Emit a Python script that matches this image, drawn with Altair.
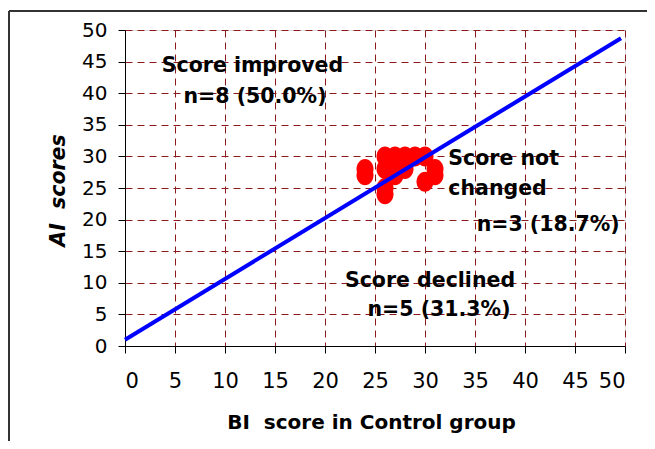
import altair as alt
import pandas as pd

# Scatter data (BI score in control group vs AI score)
bi_scores = [24, 24, 26, 27, 28, 29, 26, 27, 30, 28, 27, 26, 26, 30, 31, 31]
ai_scores = [28, 27, 30, 30, 30, 30, 28, 29, 30, 28, 27, 24, 25, 26, 28, 27]

# Reference line
line_x = [0, 49.6]
line_y = [1, 48.7]

# Annotations
center_text = ["Score improved", "n=8 (50.0%)", "Score declined", "n=5 (31.3%)"]
center_x = [12.75, 13.0, 30.5, 31.4]
center_y = [43.4, 38.4, 9.38, 4.75]

left_text = ["Score not", "changed", "n=3 (18.7%)"]
left_x = [32.33, 32.33, 35.17]
left_y = [28.64, 23.9, 18.25]

tick_values = list(range(0, 51, 5))

FONT = "DejaVu Sans"
GRID = "#8B1A1A"

pts = pd.DataFrame({"bi": bi_scores, "ai": ai_scores})
ln = pd.DataFrame({"bi": line_x, "ai": line_y})
ctext = pd.DataFrame({"bi": center_x, "ai": center_y, "t": center_text})
ltext = pd.DataFrame({"bi": left_x, "ai": left_y, "t": left_text})

xscale = alt.Scale(domain=[0, 50], nice=False, zero=True)
yscale = alt.Scale(domain=[0, 50], nice=False, zero=True)

xaxis = alt.Axis(
    values=tick_values, grid=True, gridColor=GRID, gridDash=[7, 5], gridWidth=1,
    domainColor="black", tickColor="black", tickSize=7, labelOverlap=False,
    labelFont=FONT, labelFontSize=21, labelColor="black", labelPadding=17,
    title="BI\u00a0 score in Control group", titleFont=FONT, titleFontSize=20,
    titleFontWeight="bold", titleColor="black", titleY=82, titleX=246,
    titleBaseline="alphabetic", titleAlign="center",
)
yaxis = alt.Axis(
    values=tick_values, grid=True, gridColor=GRID, gridDash=[7, 5], gridWidth=1,
    domainColor="black", tickColor="black", tickSize=7, labelOverlap=False,
    labelFont=FONT, labelFontSize=20, labelColor="black", labelPadding=11,
    title="AI\u00a0 scores", titleFont=FONT, titleFontSize=20.5, titleFontWeight="bold",
    titleFontStyle="italic", titleColor="black", titleX=-67, titleY=160,
    titleBaseline="middle", titleAlign="center", titleAngle=270,
)

def ex():
    return alt.X("bi:Q", scale=xscale, axis=xaxis)

def ey():
    return alt.Y("ai:Q", scale=yscale, axis=yaxis)

ellipse = "M-0.85,0A0.85,1,0,1,1,0.85,0A0.85,1,0,1,1,-0.85,0Z"

points = alt.Chart(pts).mark_point(
    filled=True, shape=ellipse, size=400, color="#FF0000", opacity=1
).encode(x=ex(), y=ey())

line = alt.Chart(ln).mark_line(color="#0000FF", strokeWidth=4).encode(x=ex(), y=ey())

ctxt = alt.Chart(ctext).mark_text(
    font=FONT, fontSize=20.5, fontWeight="bold", color="black",
    align="center", baseline="alphabetic"
).encode(x=ex(), y=ey(), text="t:N")

ltxt = alt.Chart(ltext).mark_text(
    font=FONT, fontSize=20.5, fontWeight="bold", color="black",
    align="left", baseline="alphabetic"
).encode(x=ex(), y=ey(), text="t:N")

frame_src = alt.Data(values=[{"k": 1}])
frame_top = alt.Chart(frame_src).mark_rule(color="#333333", strokeWidth=2).encode(
    x=alt.value(-116), x2=alt.value(540), y=alt.value(-19)
)
frame_left = alt.Chart(frame_src).mark_rule(color="#333333", strokeWidth=2).encode(
    x=alt.value(-116), y=alt.value(-19), y2=alt.value(420)
)

chart = alt.layer(points, line, ctxt, ltxt, frame_top, frame_left).properties(
    width=500, height=316,
    padding={"left": 117, "top": 22, "right": 22, "bottom": 95},
    autosize=alt.AutoSizeParams(type="none"),
).configure_view(stroke=None).configure(background="white")

chart.save("out.html", embed_options={"renderer": "svg", "actions": False})
